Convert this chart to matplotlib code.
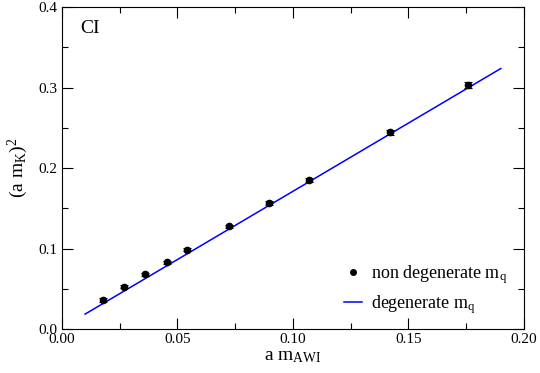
import numpy as np
import matplotlib
matplotlib.use("Agg")
import matplotlib.pyplot as plt
from matplotlib.ticker import MultipleLocator
from matplotlib.lines import Line2D

plt.rcParams['font.family'] = ['Liberation Serif', 'DejaVu Serif']
plt.rcParams['mathtext.fontset'] = 'custom'
plt.rcParams['mathtext.rm'] = 'Liberation Serif'
plt.rcParams['mathtext.it'] = 'Liberation Serif'

# non degenerate points
x_pts = [0.0177, 0.0268, 0.0359, 0.0455, 0.0541, 0.0723, 0.0896, 0.1070, 0.1420, 0.1758]
y_pts = [0.0360, 0.0525, 0.0680, 0.0830, 0.0985, 0.1275, 0.1565, 0.1855, 0.2445, 0.3030]
y_err = [0.0020, 0.0020, 0.0020, 0.0020, 0.0020, 0.0020, 0.0025, 0.0025, 0.0030, 0.0035]

# degenerate fit line
x_line = [0.0100, 0.1900]
y_line = [0.0185, 0.3237]

fig = plt.figure(figsize=(5.4, 3.73), dpi=100)
ax = fig.add_axes([0.1148, 0.118, 0.8555, 0.863])

ax.plot(x_line, y_line, color='blue', lw=1.1, zorder=2)
ax.errorbar(x_pts, y_pts, yerr=y_err, fmt='o', color='black', ms=4.5,
            capsize=3, elinewidth=0.8, capthick=0.8, zorder=3)

ax.set_xlim(0, 0.2)
ax.set_ylim(0, 0.4)
ax.xaxis.set_major_locator(MultipleLocator(0.05))
ax.xaxis.set_minor_locator(MultipleLocator(0.025))
ax.yaxis.set_major_locator(MultipleLocator(0.1))
ax.yaxis.set_minor_locator(MultipleLocator(0.05))
ax.xaxis.set_major_formatter(plt.FuncFormatter(lambda v, p: f"{v:.2f}"))
ax.yaxis.set_major_formatter(plt.FuncFormatter(lambda v, p: f"{v:.1f}"))
ax.tick_params(which='both', direction='in', top=True, right=True, labelsize=11, pad=3)
ax.tick_params(which='major', length=8, width=0.8)
ax.tick_params(which='minor', length=4, width=0.8)

ax.set_xlabel(r'a m$_{\rm AWI}$', fontsize=14, labelpad=1)
ax.set_ylabel(r'(a m$_{\rm K}$)$^2$', fontsize=14, labelpad=6)
ax.text(0.04, 0.935, 'CI', transform=ax.transAxes, fontsize=14, va='center')

handles = [Line2D([], [], ls='none', marker='o', color='black', ms=4),
           Line2D([], [], color='blue', lw=1.1)]
labels = [r'non degenerate m$_{\rm q}$', r'degenerate m$_{\rm q}$']
ax.legend(handles, labels, loc='lower left', bbox_to_anchor=(0.61, 0.04),
          frameon=False, fontsize=13, handlelength=1.0, handletextpad=0.5,
          borderpad=0, borderaxespad=0, labelspacing=0.4)

fig.savefig('out.png', dpi=100)
